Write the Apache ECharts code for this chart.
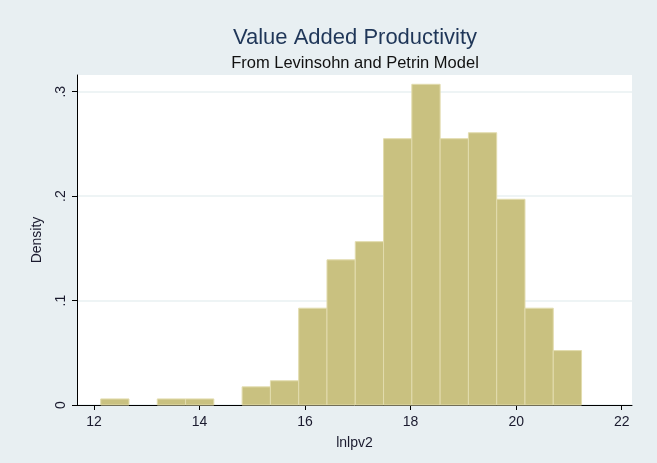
<!DOCTYPE html>
<html>
<head>
<meta charset="utf-8">
<script src="https://cdn.jsdelivr.net/npm/echarts@6/dist/echarts.min.js"></script>
<style>
  html, body { margin: 0; padding: 0; background: #e8eff2; }
  #chart { width: 657px; height: 463px; }
</style>
</head>
<body>
<div id="chart"></div>
<script>
// Histogram of lnlpv2: bin edges and density of each bin
const binEdges = [12.127, 12.663, 13.199, 13.735, 14.271, 14.807, 15.343, 15.879,
                  16.415, 16.951, 17.487, 18.023, 18.559, 19.095, 19.631, 20.167,
                  20.703, 21.239];
const densities = [0.0058, 0, 0.0058, 0.0058, 0, 0.0174, 0.0232, 0.0927,
                   0.139, 0.1564, 0.255, 0.3071, 0.255, 0.2607, 0.197, 0.0927, 0.0521];
const xTicks = [12, 14, 16, 18, 20, 22];
const yTicks = [0, 0.1, 0.2, 0.3];
const yTickLabels = ['0', '.1', '.2', '.3'];

const titleText = 'Value Added Productivity';
const subtitleText = 'From Levinsohn and Petrin Model';
const xName = 'lnlpv2';
const yName = 'Density';

const bins = densities.map((d, i) => [binEdges[i], binEdges[i + 1], d]);

const chart = echarts.init(document.getElementById('chart'), null, { renderer: 'canvas' });
const font = '"Liberation Sans", Arial, sans-serif';

chart.setOption({
  backgroundColor: '#e8eff2',
  animation: false,
  textStyle: { fontFamily: font },
  title: [
    { text: titleText, left: 350, top: 22, textAlign: 'center',
      textStyle: { fontFamily: font, fontSize: 22, fontWeight: 'normal', color: '#1f3658' } },
    { text: subtitleText, left: 350, top: 50, textAlign: 'center',
      textStyle: { fontFamily: font, fontSize: 16.5, fontWeight: 'normal', color: '#111' } }
  ],
  grid: { left: 77, right: 25, top: 75, bottom: 58, show: true,
          backgroundColor: '#ffffff', borderWidth: 0 },
  xAxis: {
    type: 'value', min: 11.678, max: 22.195,
    name: xName, nameLocation: 'middle', nameGap: 31,
    nameTextStyle: { fontFamily: font, fontSize: 14, color: '#1a1a2e' },
    axisLine: { show: true, onZero: false, lineStyle: { color: '#000', width: 1 } },
    axisTick: { show: true, length: 5, customValues: xTicks, lineStyle: { color: '#000' } },
    axisLabel: { customValues: xTicks, fontFamily: font, fontSize: 14, color: '#1a1a2e', margin: 10 },
    splitLine: { show: false }
  },
  yAxis: {
    type: 'value', min: 0, max: 0.316, interval: 0.1,
    name: yName, nameLocation: 'middle', nameGap: 33,
    nameTextStyle: { fontFamily: font, fontSize: 14, color: '#1a1a2e' },
    axisLine: { show: true, lineStyle: { color: '#000', width: 1 } },
    axisTick: { show: true, length: 5, customValues: yTicks, lineStyle: { color: '#000' } },
    axisLabel: {
      customValues: yTicks, rotate: 90, fontFamily: font, fontSize: 14, color: '#1a1a2e', margin: 9,
      formatter: v => { const i = yTicks.findIndex(t => Math.abs(t - v) < 1e-9); return i >= 0 ? yTickLabels[i] : ''; }
    },
    splitLine: { show: true, lineStyle: { color: '#e9f0f2', width: 1.5 } }
  },
  series: [{
    type: 'custom',
    data: bins,
    encode: { x: [0, 1], y: 2 },
    renderItem: (params, api) => {
      if (!(api.value(2) > 0)) return null; // empty bins draw nothing
      const p0 = api.coord([api.value(0), api.value(2)]);
      const p1 = api.coord([api.value(1), 0]);
      return {
        type: 'rect',
        shape: { x: p0[0], y: p0[1], width: p1[0] - p0[0], height: p1[1] - p0[1] },
        style: { fill: '#c9c180', stroke: '#e2dcae', lineWidth: 1 }
      };
    }
  }]
});
</script>
</body>
</html>
